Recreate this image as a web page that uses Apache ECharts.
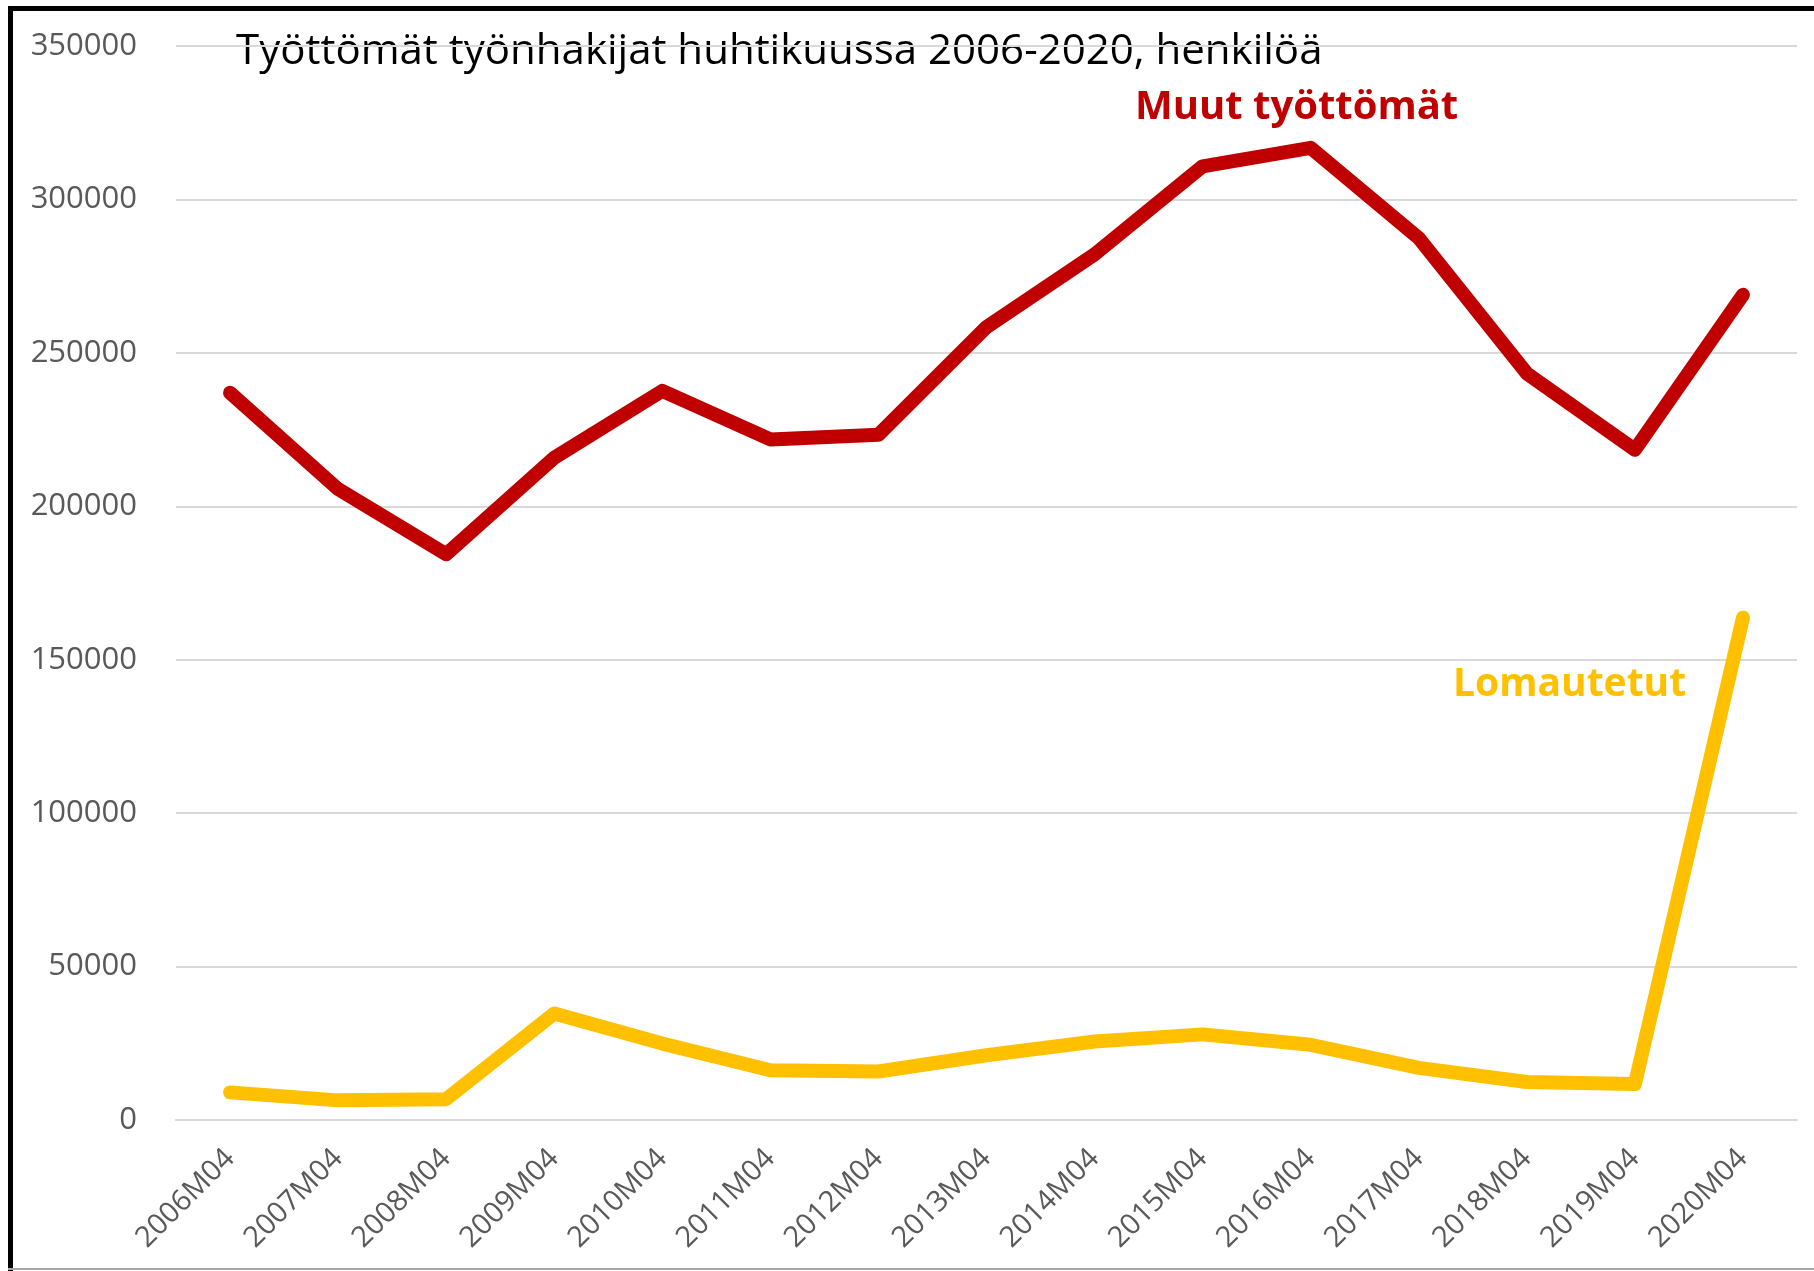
<!DOCTYPE html>
<html>
<head>
<meta charset="utf-8">
<script src="https://cdn.jsdelivr.net/npm/echarts@6/dist/echarts.min.js"></script>
<style>
  html, body { margin: 0; padding: 0; background: #fff; }
  #main { width: 1814px; height: 1271px; }
</style>
</head>
<body>
<div id="main"></div>
<script>
var categories = ['2006M04', '2007M04', '2008M04', '2009M04', '2010M04', '2011M04', '2012M04',
    '2013M04', '2014M04', '2015M04', '2016M04', '2017M04', '2018M04', '2019M04', '2020M04'];
var muutTyottomat = [237000, 205600, 184400, 215800, 237600, 221800, 223300,
    258400, 282100, 310800, 316800, 287400, 243300, 218400, 268900];
var lomautetut = [9000, 6400, 6800, 34700, 24900, 16200, 15800,
    21100, 25600, 27900, 24500, 17000, 12400, 11700, 163700];
var yTicks = { min: 0, max: 350000, interval: 50000 };

var chartDom = document.getElementById('main');
var myChart = echarts.init(chartDom);
var option;

var font = '"Open Sans", "DejaVu Sans", sans-serif';

option = {
    animation: false,
    grid: { left: 176, right: 17, top: 46, bottom: 151 },
    graphic: [
        // frame: black left and top edge, gray bottom edge
        { type: 'rect', shape: { x: 8, y: 6, width: 5, height: 1265 }, style: { fill: '#000' } },
        { type: 'rect', shape: { x: 8, y: 6, width: 1806, height: 5 }, style: { fill: '#000' } },
        { type: 'rect', shape: { x: 8, y: 1268, width: 1806, height: 2 }, style: { fill: '#A6A6A6' } },
        {
            type: 'text', x: 236, y: 52,
            style: { text: 'Työttömät työnhakijat huhtikuussa 2006-2020, henkilöä', fill: '#000',
                font: '42px ' + font, verticalAlign: 'middle' }
        },
        {
            type: 'text', x: 1135, y: 108,
            style: { text: 'Muut työttömät', fill: '#C00000',
                font: 'bold 40px ' + font, verticalAlign: 'middle' }
        },
        {
            type: 'text', x: 1453, y: 685,
            style: { text: 'Lomautetut', fill: '#FFC000',
                font: 'bold 39px ' + font, verticalAlign: 'middle' }
        }
    ],
    xAxis: {
        type: 'category',
        data: categories,
        boundaryGap: true,
        axisLine: { show: true, lineStyle: { color: '#D9D9D9', width: 2 } },
        axisTick: { show: false },
        axisLabel: { rotate: 45, fontSize: 29, color: '#595959', fontFamily: font, margin: 34, interval: 0 }
    },
    yAxis: {
        type: 'value',
        min: yTicks.min,
        max: yTicks.max,
        interval: yTicks.interval,
        axisLine: { show: false },
        axisTick: { show: false },
        axisLabel: {
            fontSize: 31, color: '#595959', fontFamily: font, margin: 39,
            formatter: function (v) { return String(v); }
        },
        splitLine: { lineStyle: { color: '#D9D9D9', width: 2 } }
    },
    series: [
        {
            name: 'Muut työttömät',
            type: 'line',
            data: muutTyottomat,
            showSymbol: false,
            lineStyle: { color: '#C00000', width: 14, cap: 'round', join: 'round' }
        },
        {
            name: 'Lomautetut',
            type: 'line',
            data: lomautetut,
            showSymbol: false,
            lineStyle: { color: '#FFC000', width: 14, cap: 'round', join: 'round' }
        }
    ]
};

option && myChart.setOption(option);
</script>
</body>
</html>
